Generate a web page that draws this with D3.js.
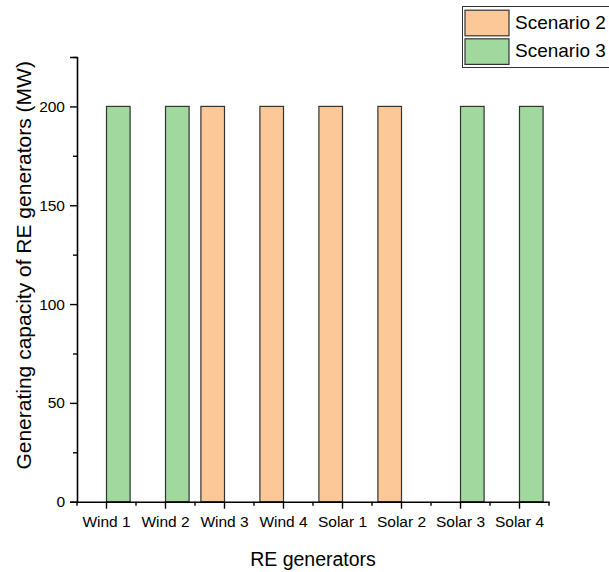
<!DOCTYPE html>
<html>
<head>
<meta charset="utf-8">
<script src="https://cdn.jsdelivr.net/npm/d3@7"></script>
<style>
  html, body { margin: 0; padding: 0; background: #fff; }
  svg { display: block; font-family: "Liberation Sans", Arial, sans-serif; }
</style>
</head>
<body>
<svg id="chart" width="609" height="572"></svg>
<script>
// RE generators and installed capacity (MW) per scenario
const categories = ["Wind 1", "Wind 2", "Wind 3", "Wind 4", "Solar 1", "Solar 2", "Solar 3", "Solar 4"];
const seriesNames = ["Scenario 2", "Scenario 3"];
const scenario2 = [0, 0, 200, 200, 200, 200, 0, 0];
const scenario3 = [200, 200, 0, 0, 0, 0, 200, 200];
const yMajorTicks = [0, 50, 100, 150, 200];
const yMinorTicks = [25, 75, 125, 175, 225];
const seriesColors = ["#FDC897", "#A0D89D"];

const svg = d3.select("#chart");
const W = 609, H = 572;
const margin = { top: 57, right: 60, bottom: 70.3, left: 77 };
const x0 = margin.left, x1 = W - margin.right;
const yTop = margin.top, yBot = H - margin.bottom;

const x = d3.scaleBand().domain(categories).range([x0, x1]).padding(0);
const xs = d3.scaleBand().domain(seriesNames).range([x.bandwidth() * 0.1, x.bandwidth() * 0.9]).padding(0);
const y = d3.scaleLinear().domain([0, 225]).range([yBot, yTop]);

const rows = [];
categories.forEach((c, i) => {
  [scenario2[i], scenario3[i]].forEach((v, s) => {
    if (v > 0) rows.push({ cat: c, series: seriesNames[s], value: v, color: seriesColors[s] });
  });
});

// bars
svg.append("g").selectAll("rect").data(rows).join("rect")
  .attr("x", d => x(d.cat) + xs(d.series))
  .attr("y", d => y(d.value))
  .attr("width", xs.bandwidth())
  .attr("height", d => y(0) - y(d.value))
  .attr("fill", d => d.color)
  .attr("stroke", "#333")
  .attr("stroke-width", 1.2);

const tickFont = "15.5px";

// y axis: major ticks with labels, minor ticks without
svg.append("g").attr("transform", `translate(${x0},0)`)
  .call(d3.axisLeft(y).tickValues(yMajorTicks).tickSize(7).tickPadding(5).tickFormat(d3.format("d")));
svg.append("g").attr("transform", `translate(${x0},0)`)
  .call(d3.axisLeft(y).tickValues(yMinorTicks).tickSize(4).tickFormat(""))
  .select(".domain").remove();

// x axis: major ticks at category centres, minor ticks between categories
svg.append("g").attr("transform", `translate(0,${yBot})`)
  .call(d3.axisBottom(x).tickSize(7).tickPadding(7).tickSizeOuter(0));
const xMinor = d3.range(categories.length + 1).map(i => x0 + i * x.step());
svg.append("g").attr("transform", `translate(0,${yBot})`)
  .selectAll("line").data(xMinor).join("line")
  .attr("x1", d => d).attr("x2", d => d).attr("y1", 0).attr("y2", 4)
  .attr("stroke", "#000").attr("stroke-width", 1.4);

svg.selectAll(".domain").attr("stroke", "#000").attr("stroke-width", 1.6);
svg.selectAll(".tick line").attr("stroke", "#000").attr("stroke-width", 1.4);
svg.selectAll(".tick text").attr("font-size", tickFont).attr("fill", "#000")
  .attr("font-family", "'Liberation Sans', Arial, sans-serif");

// axis titles
svg.append("text")
  .attr("x", (x0 + x1) / 2).attr("y", 566)
  .attr("text-anchor", "middle").attr("font-size", "19.5px").attr("fill", "#000")
  .text("RE generators");
svg.append("text")
  .attr("transform", `translate(31,${(yTop + yBot) / 2 - 14}) rotate(-90)`)
  .attr("text-anchor", "middle").attr("font-size", "21px").attr("fill", "#000")
  .text("Generating capacity of RE generators (MW)");

// legend
const legend = svg.append("g");
legend.append("rect")
  .attr("x", 462.5).attr("y", 6.5).attr("width", 150).attr("height", 61)
  .attr("fill", "#fff").attr("stroke", "#333").attr("stroke-width", 1);
seriesNames.forEach((name, i) => {
  const cy = 23 + i * 28.6;
  legend.append("rect")
    .attr("x", 465).attr("y", cy - 12.8).attr("width", 44).attr("height", 25.6)
    .attr("fill", seriesColors[i]).attr("stroke", "#333").attr("stroke-width", 1.2);
  legend.append("text")
    .attr("x", 515).attr("y", cy + 5.5)
    .attr("font-size", "19px").attr("fill", "#000")
    .text(name);
});
</script>
</body>
</html>
